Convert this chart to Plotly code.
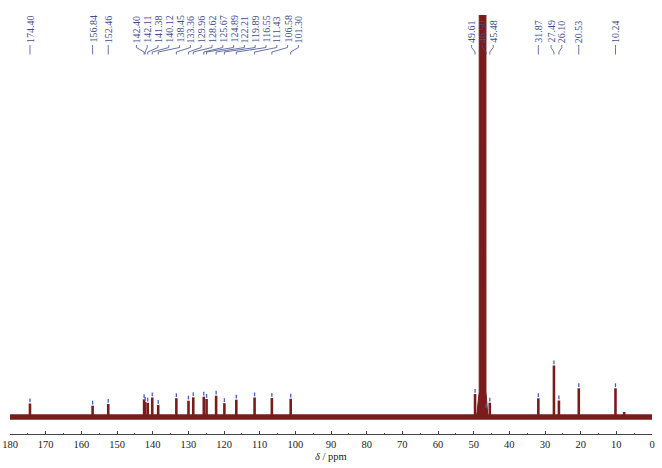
import plotly.graph_objects as go

# ---------------- data ----------------
peak_ppm = [174.40, 156.84, 152.46, 142.40, 142.11, 141.38, 140.12, 138.45,
            133.36, 129.96, 128.62, 125.67, 124.89, 122.21, 119.89, 116.55,
            111.43, 106.58, 101.30, 49.61, 46.50, 45.48, 31.87, 27.49,
            26.10, 20.53, 10.24]
peak_height = [13.5, 11.3, 13.0, 17.7, 15.0, 14.2, 19.5, 12.0,
               18.8, 16.3, 19.7, 20.3, 18.0, 21.3, 13.8, 17.3,
               19.5, 19.0, 18.2, 23.0, 8.0, 14.3, 18.7, 51.5,
               16.5, 28.7, 28.7]
# small unlabelled bump
extra_ppm = [7.8]
extra_height = [5.0]
# solvent multiplet outline (clipped at top)
solvent_ppm = [49.2, 48.9, 48.45, 48.4, 46.6, 46.55, 46.3, 46.0]
solvent_int = [0, 10, 25, 3000, 3000, 25, 10, 0]

tick_vals = list(range(0, 181, 10))
x_title = "<i>δ</i> / ppm"

# ---------------- styles ----------------
RED = "#7a1c1c"
BLUE_TEXT = "#434d8e"
TIP = "#4a5cc4"
FONT = "Liberation Serif, Times New Roman, serif"
W, H = 662, 468
PLOT_L, PLOT_R, PLOT_T, PLOT_B = 10, 652, 15, 434   # wanted window coords
ML, MR = PLOT_L, W - PLOT_R
MT, MB = PLOT_T, H - PLOT_B
plot_h = PLOT_B - PLOT_T
ppm_per_px = 180.0 / (PLOT_R - PLOT_L)


def paper_y(py):
    """window pixel y -> paper fraction"""
    return (PLOT_B - py) / plot_h


fig = go.Figure()

# baseline band
fig.add_trace(go.Scatter(x=[180, 0], y=[0, 0], mode="lines",
                         line=dict(color=RED, width=5.5), hoverinfo="skip"))

# peaks
px_, py_ = [], []
for p, h in zip(peak_ppm + extra_ppm, peak_height + extra_height):
    px_ += [p, p, None]
    py_ += [0, h, None]
fig.add_trace(go.Scatter(x=px_, y=py_, mode="lines",
                         line=dict(color=RED, width=2.6), hoverinfo="skip"))

# solvent
fig.add_trace(go.Scatter(x=solvent_ppm, y=solvent_int, mode="lines", fill="toself",
                         fillcolor=RED, line=dict(color=RED, width=1), hoverinfo="skip"))

# peak-pick tips
tx, ty = [], []
for p, h in zip(peak_ppm, peak_height):
    tx += [p, p, None]
    ty += [h + 1.2, h + 5.0, None]
fig.add_trace(go.Scatter(x=tx, y=ty, mode="lines",
                         line=dict(color=TIP, width=1.3), hoverinfo="skip"))

# ---------------- label placement (spread overlapping labels) ----------------
spacing = 10.8 * ppm_per_px
order = sorted(range(len(peak_ppm)), key=lambda i: -peak_ppm[i])
u = [180 - peak_ppm[i] for i in order]
groups = [[k] for k in range(len(order))]


def positions(g):
    c = (u[g[0]] + u[g[-1]]) / 2
    n = len(g)
    return [c + (j - (n - 1) / 2) * spacing for j in range(n)]


changed = True
while changed:
    changed = False
    for gi in range(len(groups) - 1):
        a, b = positions(groups[gi]), positions(groups[gi + 1])
        if a[-1] + spacing > b[0] + 1e-9:
            groups[gi] = groups[gi] + groups[gi + 1]
            del groups[gi + 1]
            changed = True
            break

label_pos = {}
for g in groups:
    for k, pos in zip(g, positions(g)):
        label_pos[order[k]] = 180 - pos

annotations = []
shapes = []
y_text = paper_y(44)
y1, y2, y3, y4 = paper_y(45), paper_y(47.5), paper_y(52), paper_y(54.5)
for i, p in enumerate(peak_ppm):
    lx = label_pos[i]
    annotations.append(dict(x=lx, y=y_text, xref="x", yref="paper",
                            text=f"{p:.2f}", textangle=-90, showarrow=False,
                            xanchor="center", yanchor="bottom", borderpad=0,
                            font=dict(family=FONT, size=10, color=BLUE_TEXT)))
    shapes.append(dict(type="path", xref="x", yref="paper",
                       path=f"M {lx},{y1} L {lx},{y2} L {p},{y3} L {p},{y4}",
                       line=dict(color=BLUE_TEXT, width=0.8)))

annotations.append(dict(x=90, y=paper_y(457), xref="x", yref="paper",
                        text=x_title, showarrow=False, xanchor="center",
                        yanchor="middle",
                        font=dict(family=FONT, size=10.5, color="#222")))

fig.update_layout(
    width=W, height=H,
    margin=dict(l=ML, r=MR, t=MT, b=MB),
    paper_bgcolor="white", plot_bgcolor="white",
    showlegend=False,
    annotations=annotations, shapes=shapes,
    xaxis=dict(range=[180, 0], tickvals=tick_vals, ticks="inside", ticklen=3,
               tickwidth=1, tickcolor="#444", showline=True, linecolor="#444",
               linewidth=1, showgrid=False, zeroline=False, automargin=False,
               minor=dict(dtick=5, ticks="inside", ticklen=1.5, tickcolor="#444"),
               tickfont=dict(family=FONT, size=10.5, color="#222")),
    yaxis=dict(range=[-17, 402], visible=False, fixedrange=True),
)

# remove the default page margin so the figure sits at the window origin
fig.write_html("out.html",
               config={"displayModeBar": False, "staticPlot": True},
               post_script="document.body.style.margin='0';document.body.style.overflow='hidden';")
